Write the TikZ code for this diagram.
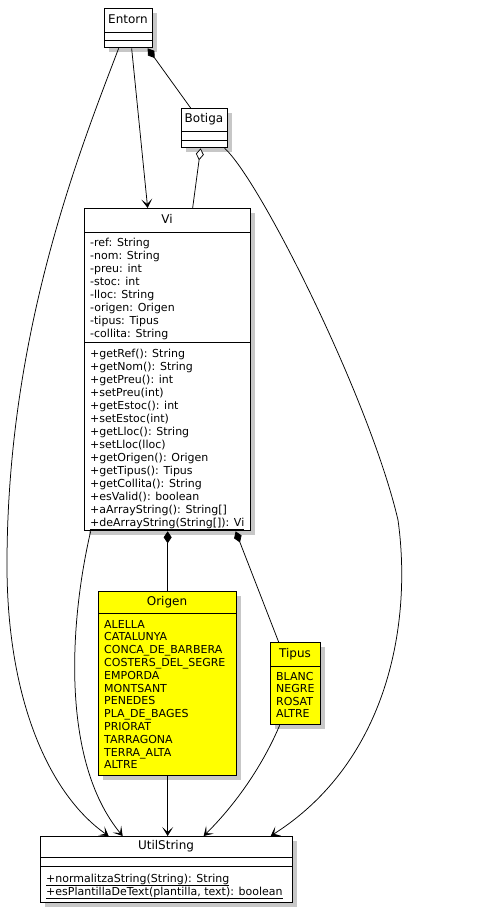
\documentclass[tikz,border=0pt]{standalone}
\usepackage{fontspec}
\setmainfont{DejaVu Sans}
\usetikzlibrary{arrows.meta,shadows}
\definecolor{enumyellow}{RGB}{255,255,0}
\tikzset{
  cls/.style={draw, line width=1.3pt, fill=white, inner sep=0pt, anchor=north west,
              drop shadow={shadow xshift=4pt, shadow yshift=-4pt, opacity=0.4, fill=black!55}},
  enumbox/.style={cls, fill=enumyellow},
  divider/.style={line width=1pt},
  hdr/.style={font=\fontsize{12}{14}\selectfont, text height=9pt, text depth=2.5pt, inner sep=0pt},
  mem/.style={font=\fontsize{11}{13}\selectfont, anchor=base west, inner sep=0pt},
  conn/.style={line width=0.75pt},
  dep/.style={conn, -{Stealth[length=9pt,width=11pt,inset=5pt]}},
  comp/.style={conn, {Diamond[length=12pt,width=8pt]}-},
  aggr/.style={conn, {Diamond[open,length=12pt,width=8pt,fill=white]}-}
}
\begin{document}
\begin{tikzpicture}[x=1pt,y=-1pt]
\useasboundingbox (0,0) rectangle (479,911);

% ---------- Entorn ----------
\node[cls, minimum width=48pt, minimum height=39pt] (entorn) at (104,8) {};
\draw[divider] (104,32) -- (152,32);
\draw[divider] (104,40) -- (152,40);
\node[hdr] (entorn-t) at (128,20) {Entorn};

% ---------- Botiga ----------
\node[cls, minimum width=46pt, minimum height=39pt] (botiga) at (181,108) {};
\draw[divider] (181,131) -- (227,131);
\draw[divider] (181,140) -- (227,140);
\node[hdr] (botiga-t) at (204,119.5) {Botiga};

% ---------- Vi ----------
\node[cls, minimum width=166pt, minimum height=322pt] (vi) at (84,208) {};
\draw[divider] (84,232) -- (250,232);
\draw[divider] (84,342) -- (250,342);
\node[hdr] (vi-t) at (167,220) {Vi};
\foreach \t [count=\i from 0] in {-ref: String,-nom: String,-preu: int,-stoc: int,-lloc: String,-origen: Origen,-tipus: Tipus,-collita: String}
  \node[mem] (vi-a\i) at (90,{246+13*\i}) {\t};
\foreach \t [count=\i from 0] in {+getRef(): String,+getNom(): String,+getPreu(): int,+setPreu(int),+getEstoc(): int,+setEstoc(int),+getLloc(): String,+setLloc(lloc),+getOrigen(): Origen,+getTipus(): Tipus,+getCollita(): String,+esValid(): boolean,+aArrayString(): String[],{\underline{+deArrayString(String[]): Vi}}}
  \node[mem] (vi-m\i) at (90,{357+13*\i}) {\t};

% ---------- Origen ----------
\node[enumbox, minimum width=138pt, minimum height=184pt] (origen) at (98,591) {};
\draw[divider] (98,613) -- (236,613);
\node[hdr] (origen-t) at (167,602) {Origen};
\foreach \t [count=\i from 0] in {ALELLA,CATALUNYA,CONCA\_DE\_BARBERA,COSTERS\_DEL\_SEGRE,EMPORDA,MONTSANT,PENEDES,PLA\_DE\_BAGES,PRIORAT,TARRAGONA,TERRA\_ALTA,ALTRE}
  \node[mem] (origen-v\i) at (104,{628+12.8*\i}) {\t};

% ---------- Tipus ----------
\node[enumbox, minimum width=50pt, minimum height=82pt] (tipus) at (270,642) {};
\draw[divider] (270,666) -- (320,666);
\node[hdr] (tipus-t) at (295,654) {Tipus};
\foreach \t [count=\i from 0] in {BLANC,NEGRE,ROSAT,ALTRE}
  \node[mem] (tipus-v\i) at (276,{680+12.6*\i}) {\t};

% ---------- UtilString ----------
\node[cls, minimum width=252pt, minimum height=66pt] (util) at (40,836) {};
\draw[divider] (40,857) -- (292,857);
\draw[divider] (40,866) -- (292,866);
\node[hdr] (util-t) at (166,846.5) {UtilString};
\node[mem] (util-m0) at (46,882) {\underline{+normalitzaString(String): String}};
\node[mem] (util-m1) at (46,895) {\underline{+esPlantillaDeText(plantilla, text): boolean}};

% ---------- Connectors ----------
\draw[dep] ([xshift=3pt]entorn.south) -- ([xshift=-20pt]vi.north);
\draw[comp] ([xshift=19pt]entorn.south) -- ([xshift=-14pt]botiga.north);
\draw[aggr] ([xshift=-4pt]botiga.south) -- ([xshift=25pt]vi.north);
\draw[dep] ([xshift=-10pt]entorn.south) .. controls (80,150) and (8,330) .. (7,560)
  .. controls (6,700) and (50,795) .. ([xshift=-58pt]util.north);
\draw[dep] ([xshift=-77pt]vi.south) .. controls (70,620) and (60,760) .. ([xshift=-44pt]util.north);
\draw[dep] ([xshift=20pt]botiga.south) .. controls (260,180) and (370,400) .. (398,520)
  .. controls (412,620) and (390,760) .. ([xshift=104pt]util.north);
\draw[comp] (vi.south) -- (origen.north);
\draw[comp] ([xshift=68pt]vi.south) -- ([xshift=-17pt]tipus.north);
\draw[dep] (origen.south) -- (origen.south |- util.north);
\draw[dep] ([xshift=-16pt]tipus.south) .. controls (265,760) and (240,800) .. ([xshift=37pt]util.north);
\end{tikzpicture}
\end{document}
